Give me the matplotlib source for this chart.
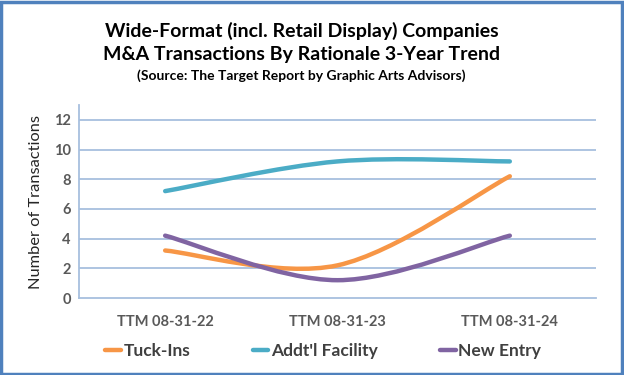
import matplotlib
matplotlib.use("Agg")
import matplotlib.pyplot as plt
from matplotlib.path import Path
from matplotlib.patches import PathPatch, Rectangle
from matplotlib.lines import Line2D

categories = ["TTM 08-31-22", "TTM 08-31-23", "TTM 08-31-24"]
tuck_ins = [3.2, 2.2, 8.2]
addtl_facility = [7.2, 9.2, 9.2]
new_entry = [4.2, 1.2, 4.2]
series_names = ["Tuck-Ins", "Addt'l Facility", "New Entry"]
series_values = [tuck_ins, addtl_facility, new_entry]
colors = ["#F79646", "#4BACC6", "#8064A2"]
yticks = [0, 2, 4, 6, 8, 10, 12]

plt.rcParams['font.family'] = ['Lato', 'DejaVu Sans']

fig = plt.figure(figsize=(6.24, 3.75), dpi=100)
fig.patch.set_facecolor("white")

# border
fig.patches.append(Rectangle((0.002, 0.004), 0.995, 0.992, transform=fig.transFigure,
                             fill=False, edgecolor="#4F81BD", linewidth=2.5))

ax = fig.add_axes([0.1266, 0.2053, 0.8285, 0.5147])
ax.set_facecolor("white")
xs = list(range(len(categories)))
ax.set_xlim(-0.5, len(categories) - 0.5)
ax.set_ylim(0, 13)
ax.set_yticks(yticks)
ax.set_xticks(xs)
ax.set_xticklabels(categories)
for t in yticks:
    if t > 0:
        ax.axhline(t, color="#A7BFDE", linewidth=1.3, zorder=1)
for s in ["top", "right"]:
    ax.spines[s].set_visible(False)
for s in ["left", "bottom"]:
    ax.spines[s].set_color("#A7BFDE")
    ax.spines[s].set_linewidth(1.3)
ax.tick_params(length=0, labelsize=10.5, labelcolor="#595959", pad=6)
for lab in ax.get_yticklabels() + ax.get_xticklabels():
    lab.set_fontweight("bold")
ax.tick_params(axis="x", pad=12)
ax.set_ylabel("Number of Transactions", fontsize=11.8, color="#262626", labelpad=8)


def smooth_path(x, y):
    # Excel-style smoothed line: cubic Bezier segments with Catmull-Rom tangents
    n = len(x)
    verts = [(x[0], y[0])]
    codes = [Path.MOVETO]
    for i in range(n - 1):
        xm = x[i - 1] if i > 0 else x[i]
        ym = y[i - 1] if i > 0 else y[i]
        xp = x[i + 2] if i + 2 < n else x[i + 1]
        yp = y[i + 2] if i + 2 < n else y[i + 1]
        c1 = (x[i] + (x[i + 1] - xm) / 6, y[i] + (y[i + 1] - ym) / 6)
        c2 = (x[i + 1] - (xp - x[i]) / 6, y[i + 1] - (yp - y[i]) / 6)
        verts += [c1, c2, (x[i + 1], y[i + 1])]
        codes += [Path.CURVE4] * 3
    return Path(verts, codes)


for vals, c in zip(series_values, colors):
    p = PathPatch(smooth_path(xs, vals), facecolor="none", edgecolor=c,
                  linewidth=3.2, capstyle="round", zorder=3)
    ax.add_patch(p)

handles = [Line2D([0], [0], color=c, linewidth=3.2, solid_capstyle="round") for c in colors]
leg = fig.legend(handles, series_names, loc="center", bbox_to_anchor=(0.518, 0.064),
                 ncol=3, frameon=False, handlelength=0.9, handletextpad=0.15,
                 columnspacing=3.6, prop={"weight": "bold", "size": 12.5})
for t in leg.get_texts():
    t.set_color("#404040")

fig.text(0.483, 0.918, "Wide-Format (incl. Retail Display) Companies", ha="center", va="center",
         fontsize=14, fontweight="bold", color="black")
fig.text(0.483, 0.855, "M&A Transactions By Rationale 3-Year Trend", ha="center", va="center",
         fontsize=14, fontweight="bold", color="black")
fig.text(0.483, 0.797, "(Source: The Target Report by Graphic Arts Advisors)", ha="center",
         va="center", fontsize=10, fontweight="bold", color="black")

fig.savefig("out.png", dpi=100)
